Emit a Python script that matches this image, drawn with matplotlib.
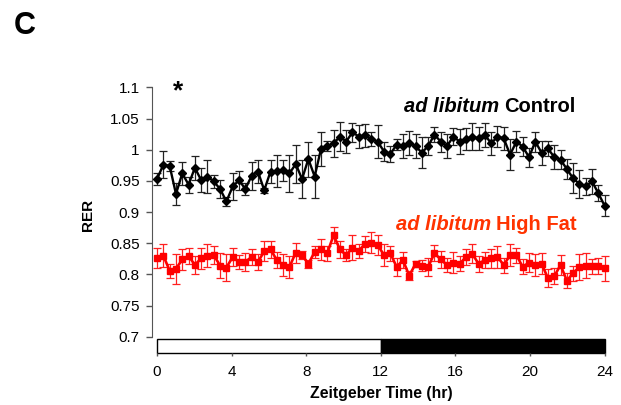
import matplotlib.pyplot as plt
import numpy as np
from matplotlib.patches import Rectangle
from matplotlib.ticker import FuncFormatter

plt.rcParams['font.family'] = ['Liberation Sans', 'DejaVu Sans']

# RER values, 20-min bins over 24 h
control = [0.953, 0.976, 0.974, 0.929, 0.962, 0.944, 0.971, 0.951, 0.957, 0.949,
           0.937, 0.917, 0.941, 0.951, 0.937, 0.958, 0.965, 0.935, 0.965, 0.966,
           0.967, 0.962, 0.977, 0.953, 0.985, 0.957, 1.001, 1.006, 1.010, 1.021,
           1.013, 1.028, 1.021, 1.023, 1.017, 1.013, 0.997, 0.993, 1.008, 1.006,
           1.011, 1.006, 0.995, 1.006, 1.024, 1.013, 1.006, 1.021, 1.013, 1.017,
           1.021, 1.018, 1.024, 1.010, 1.021, 1.018, 0.992, 1.013, 1.005, 0.988,
           1.013, 0.995, 1.002, 0.988, 0.984, 0.969, 0.954, 0.945, 0.941, 0.949,
           0.930, 0.910]
control_err = [0.009, 0.022, 0.008, 0.017, 0.019, 0.013, 0.019, 0.019, 0.027, 0.011,
               0.014, 0.007, 0.021, 0.015, 0.009, 0.023, 0.018, 0.004, 0.019, 0.026,
               0.017, 0.030, 0.031, 0.030, 0.028, 0.035, 0.027, 0.008, 0.022, 0.023,
               0.019, 0.015, 0.019, 0.018, 0.011, 0.026, 0.015, 0.013, 0.009, 0.019,
               0.019, 0.019, 0.025, 0.015, 0.012, 0.016, 0.019, 0.013, 0.020, 0.018,
               0.021, 0.019, 0.019, 0.018, 0.017, 0.019, 0.025, 0.017, 0.015, 0.015,
               0.016, 0.019, 0.012, 0.019, 0.015, 0.016, 0.024, 0.023, 0.013, 0.020,
               0.013, 0.017]
highfat = [0.826, 0.830, 0.806, 0.809, 0.824, 0.830, 0.815, 0.826, 0.830, 0.831,
           0.814, 0.811, 0.828, 0.820, 0.820, 0.828, 0.820, 0.837, 0.840, 0.823,
           0.815, 0.812, 0.835, 0.831, 0.817, 0.836, 0.840, 0.834, 0.863, 0.840,
           0.831, 0.843, 0.838, 0.849, 0.851, 0.847, 0.831, 0.834, 0.812, 0.823,
           0.798, 0.817, 0.814, 0.812, 0.834, 0.824, 0.815, 0.819, 0.817, 0.828,
           0.833, 0.817, 0.823, 0.826, 0.828, 0.815, 0.831, 0.831, 0.812, 0.819,
           0.815, 0.817, 0.794, 0.797, 0.815, 0.790, 0.802, 0.812, 0.814, 0.813,
           0.813, 0.810]
highfat_err = [0.016, 0.018, 0.011, 0.024, 0.017, 0.013, 0.015, 0.017, 0.018, 0.015,
               0.020, 0.021, 0.015, 0.011, 0.014, 0.013, 0.013, 0.016, 0.014, 0.013,
               0.018, 0.017, 0.016, 0.006, 0.006, 0.009, 0.017, 0.012, 0.013, 0.013,
               0.009, 0.020, 0.011, 0.013, 0.017, 0.016, 0.017, 0.012, 0.015, 0.013,
               0.007, 0.005, 0.009, 0.015, 0.013, 0.013, 0.011, 0.017, 0.012, 0.013,
               0.015, 0.013, 0.013, 0.015, 0.018, 0.012, 0.017, 0.012, 0.012, 0.015,
               0.018, 0.017, 0.014, 0.013, 0.016, 0.012, 0.012, 0.021, 0.020, 0.012,
               0.013, 0.020]
time_hr = np.linspace(0, 24, len(control))
xticks = [0, 4, 8, 12, 16, 20, 24]
yticks = [0.7, 0.75, 0.8, 0.85, 0.9, 0.95, 1.0, 1.05, 1.1]

fig = plt.figure(figsize=(6.21, 4.05), dpi=100)
ax = fig.add_axes([0.2448, 0.1284, 0.737, 0.656])

ax.errorbar(time_hr, control, yerr=control_err, color='black', marker='D', ms=4.5,
            lw=1.7, ecolor='#222222', elinewidth=0.9, capsize=3, capthick=0.9, zorder=3)
ax.errorbar(time_hr, highfat, yerr=highfat_err, color='#ff0000', marker='s', ms=5,
            lw=1.9, ecolor='#ff2020', elinewidth=0.9, capsize=3, capthick=0.9, zorder=3)

ax.set_xlim(-0.27, 24.27)
ax.set_ylim(0.674, 1.1)
for s in ['top', 'right', 'bottom']:
    ax.spines[s].set_visible(False)
ax.spines['left'].set_bounds(0.7, 1.1)
ax.spines['left'].set_color('#555555')

ax.set_yticks(yticks)
ax.yaxis.set_major_formatter(FuncFormatter(lambda v, p: '%g' % round(v, 2)))
ax.set_xticks(xticks)
ax.tick_params(axis='y', direction='out', length=4, width=1, color='#555555', pad=5, labelsize=11)
ax.tick_params(axis='x', direction='out', length=2.5, width=1, color='#555555', pad=6, labelsize=11)

# light / dark bar
ax.add_patch(Rectangle((0, 0.674), 12, 0.0226, facecolor='white', edgecolor='black', lw=1, clip_on=False))
ax.add_patch(Rectangle((12, 0.674), 12, 0.0226, facecolor='black', edgecolor='black', lw=1, clip_on=False))

ax.set_xlabel('Zeitgeber Time (hr)', fontsize=11.3, weight='bold', labelpad=5)
fig.text(0.142, 0.47, 'RER', rotation=90, fontsize=11, weight='bold', ha='center', va='center')

t1 = ax.text(22.45, 1.06, 'Control', ha='right', va='baseline', fontsize=14.5, weight='bold', color='black')
ax.annotate('ad libitum', xy=(0, 0), xycoords=t1, xytext=(-4, 0), textcoords='offset points',
            ha='right', va='bottom', fontsize=14.5, weight='bold', style='italic', color='black')
t2 = ax.text(22.5, 0.871, 'High Fat', ha='right', va='baseline', fontsize=14.5, weight='bold', color='#ff3300')
ax.annotate('ad libitum', xy=(0, 0), xycoords=t2, xytext=(-4, 0), textcoords='offset points',
            ha='right', va='bottom', fontsize=14.5, weight='bold', style='italic', color='#ff3300')

ax.text(1.15, 1.093, '*', ha='center', va='center', fontsize=19, weight='bold', clip_on=False)
fig.text(0.04, 0.935, 'C', ha='center', va='center', fontsize=22, weight='bold')

fig.savefig('out.png', dpi=100)
